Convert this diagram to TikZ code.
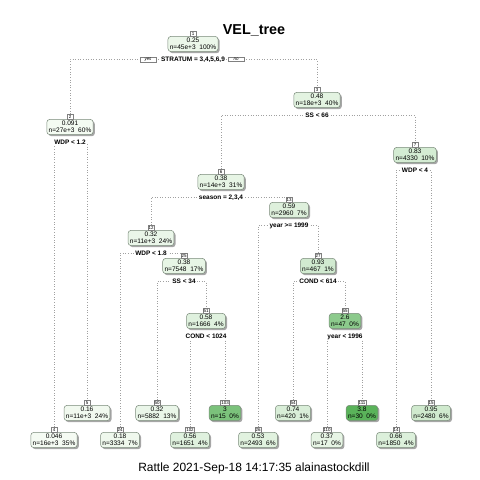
\documentclass[tikz,border=0pt]{standalone}
\usepackage{fontspec}
\setmainfont{Liberation Sans}
\usetikzlibrary{shadows}
\pgfdeclarelayer{bg}
\pgfdeclarelayer{canvas}
\pgfsetlayers{canvas,bg,main}
\definecolor{gL}{HTML}{F7FCF5}
\definecolor{gH}{HTML}{5AB35A}
\definecolor{lnc}{HTML}{A0A0A0}
\definecolor{bdc}{HTML}{7A8A7A}
\tikzset{
 tbox/.style={draw=bdc, line width=0.5bp, rounded corners=3bp, align=center,
   inner xsep=1.8bp, inner ysep=1.6bp, font=\fontsize{6.6}{7.4}\selectfont,
   drop shadow={shadow xshift=1.6bp, shadow yshift=-1.6bp, fill=black, opacity=0.35}},
 numbox/.style={draw=gray, fill=white, line width=0.4bp, inner sep=0.6bp,
   font=\fontsize{4.5}{4.5}\selectfont, minimum width=6bp, minimum height=4.5bp,
   drop shadow={shadow xshift=1bp, shadow yshift=-0.6bp, fill=black, opacity=0.3}},
 splitlab/.style={fill=white, inner xsep=1bp, inner ysep=0.5bp,
   font=\bfseries\fontsize{6.5}{7}\selectfont},
 yn/.style={draw=gray, fill=white, line width=0.4bp, inner xsep=1.5bp, inner ysep=0.6bp,
   font=\itshape\fontsize{4.5}{4.5}\selectfont, minimum width=16bp},
 conn/.style={draw=lnc, line width=0.6bp, dotted},
}
\newcommand\treenode[7]{%
  \node[tbox, fill=gH!#6!gL] (#1) at (#2,#3) {#4\\#5};
  \node[numbox, anchor=south] (#1n) at ([yshift=-0.2bp]#1.north) {#7};}
\begin{document}
\begin{tikzpicture}[x=1bp,y=-1bp]
\begin{pgfonlayer}{canvas}
\fill[white] (0,0) rectangle (480,480);
\end{pgfonlayer}
\useasboundingbox (0,0) rectangle (480,480);
% title and footer
\node[font=\bfseries\fontsize{14.4}{16}\selectfont] (title) at (254,30) {VEL\_tree};
\node[font=\fontsize{12}{14}\selectfont] (foot) at (254,468) {Rattle 2021-Sep-18 14:17:35 alainastockdill};
% internal nodes
\treenode{n1}{193}{44}{0.25}{n=45e+3\ \ 100\%}{7}{1}
\treenode{n2}{70}{127}{0.091}{n=27e+3\ \ 60\%}{2}{2}
\treenode{n3}{317}{100}{0.48}{n=18e+3\ \ 40\%}{13}{3}
\treenode{n6}{221}{182}{0.38}{n=14e+3\ \ 31\%}{10}{6}
\treenode{n7}{415}{155}{0.83}{n=4330\ \ 10\%}{22}{7}
\treenode{n12}{151}{238}{0.32}{n=11e+3\ \ 24\%}{8}{12}
\treenode{n13}{289}{210}{0.59}{n=2960\ \ 7\%}{16}{13}
\treenode{n25}{184}{266}{0.38}{n=7548\ \ 17\%}{10}{25}
\treenode{n27}{318}{266}{0.93}{n=467\ \ 1\%}{24}{27}
\treenode{n51}{206}{321}{0.58}{n=1666\ \ 4\%}{15}{51}
\treenode{n55}{345}{321}{2.6}{n=47\ \ 0\%}{68}{55}
% leaves, upper row
\treenode{n5}{87}{413}{0.16}{n=11e+3\ \ 24\%}{4}{5}
\treenode{n50}{157}{413}{0.32}{n=5882\ \ 13\%}{8}{50}
\treenode{n103}{225}{413}{3}{n=15\ \ 0\%}{79}{103}
\treenode{n54}{293}{413}{0.74}{n=420\ \ 1\%}{19}{54}
\treenode{n111}{362}{413}{3.8}{n=30\ \ 0\%}{100}{111}
\treenode{n15}{431}{413}{0.95}{n=2480\ \ 6\%}{25}{15}
% leaves, lower row
\treenode{n4}{54}{440}{0.046}{n=16e+3\ \ 35\%}{1}{4}
\treenode{n24}{120}{440}{0.18}{n=3334\ \ 7\%}{5}{24}
\treenode{n102}{190}{440}{0.56}{n=1651\ \ 4\%}{15}{102}
\treenode{n26}{258}{440}{0.53}{n=2493\ \ 6\%}{14}{26}
\treenode{n110}{327}{440}{0.37}{n=17\ \ 0\%}{10}{110}
\treenode{n14}{396}{440}{0.66}{n=1850\ \ 4\%}{17}{14}
% split labels
\node[splitlab] (s1) at (193,59.5) {STRATUM = 3,4,5,6,9};
\node[yn] (yes) at (148,59.5) {yes};
\node[yn] (no) at (236,59.5) {no};
\node[splitlab] (s2) at (70,142.5) {WDP < 1.2};
\node[splitlab] (s3) at (317,115.5) {SS < 66};
\node[splitlab] (s6) at (221,197.5) {season = 2,3,4};
\node[splitlab] (s7) at (415,170.5) {WDP < 4};
\node[splitlab] (s12) at (151,253.5) {WDP < 1.8};
\node[splitlab] (s13) at (289,225.5) {year >= 1999};
\node[splitlab] (s25) at (184,281.5) {SS < 34};
\node[splitlab] (s27) at (318,281.5) {COND < 614};
\node[splitlab] (s51) at (206,336.5) {COND < 1024};
\node[splitlab] (s55) at (345,336.5) {year < 1996};
% connectors
\begin{pgfonlayer}{bg}
\draw[conn] (n2.north) |- (s1.center) -| (n3.north);
\draw[conn] (n4.north) |- (s2.center) -| (n5.north);
\draw[conn] (n6.north) |- (s3.center) -| (n7.north);
\draw[conn] (n12.north) |- (s6.center) -| (n13.north);
\draw[conn] (n14.north) |- (s7.center) -| (n15.north);
\draw[conn] (n24.north) |- (s12.center) -| (n25.north);
\draw[conn] (n26.north) |- (s13.center) -| (n27.north);
\draw[conn] (n50.north) |- (s25.center) -| (n51.north);
\draw[conn] (n54.north) |- (s27.center) -| (n55.north);
\draw[conn] (n102.north) |- (s51.center) -| (n103.north);
\draw[conn] (n110.north) |- (s55.center) -| (n111.north);
\end{pgfonlayer}
\end{tikzpicture}
\end{document}
